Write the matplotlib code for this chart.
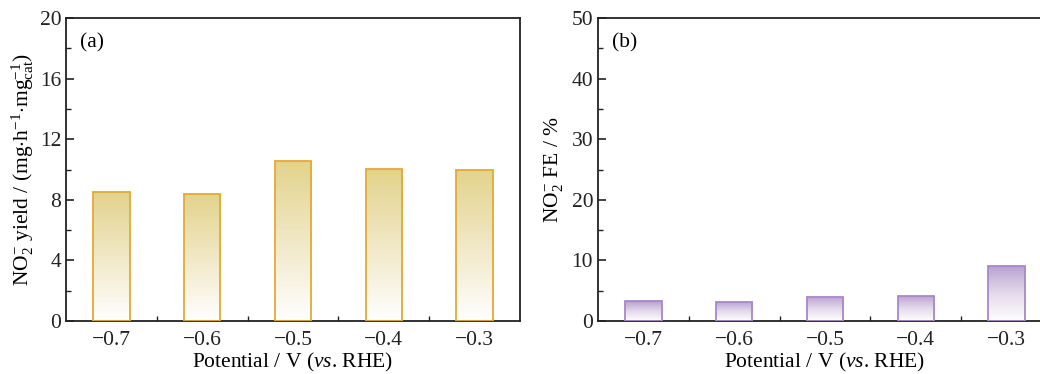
import numpy as np
import matplotlib
matplotlib.use("Agg")
import matplotlib.pyplot as plt
from matplotlib.colors import LinearSegmentedColormap
from matplotlib.ticker import MultipleLocator

plt.rcParams['font.family'] = ['Liberation Serif', 'DejaVu Serif']
plt.rcParams['mathtext.fontset'] = 'custom'
plt.rcParams['mathtext.rm'] = 'Liberation Serif'
plt.rcParams['mathtext.it'] = 'Liberation Serif:italic'
plt.rcParams['mathtext.bf'] = 'Liberation Serif:bold'

potential = [-0.7, -0.6, -0.5, -0.4, -0.3]
yield_vals = [8.5, 8.38, 10.55, 10.02, 9.97]
fe_vals = [3.3, 3.2, 4.0, 4.2, 9.1]

yellow = LinearSegmentedColormap.from_list('y', ['#ffffff', '#f1e8c6', '#e3d38c'])
purple = LinearSegmentedColormap.from_list('p', ['#ffffff', '#e4d9eb', '#b8a0cf'])

FS = 15.5


def gradient_bars(ax, x, vals, cmap, edge):
    bars = ax.bar(x, vals, width=0.04, facecolor='none', edgecolor=edge, linewidth=1.3, zorder=3)
    grad = np.linspace(0, 1, 256).reshape(-1, 1)
    for b in bars:
        x0, w, h = b.get_x(), b.get_width(), b.get_height()
        im = ax.imshow(grad, cmap=cmap, origin='lower', aspect='auto',
                       extent=[x0, x0 + w, 0, h], zorder=2, vmin=0, vmax=1)
        im.set_clip_path(b)
    return bars


def style_axis(ax, ymax, ystep):
    ax.set_xlim(-0.75, -0.25)
    ax.set_ylim(0, ymax)
    ax.set_xticks(potential)
    ax.set_xticklabels(['\u22120.7', '\u22120.6', '\u22120.5', '\u22120.4', '\u22120.3'])
    ax.set_xticks([-0.65, -0.55, -0.45, -0.35], minor=True)
    ax.yaxis.set_major_locator(MultipleLocator(ystep))
    ax.yaxis.set_minor_locator(MultipleLocator(ystep / 2))
    ax.tick_params(which='major', direction='in', length=6, width=1.2, labelsize=FS, colors='#222222')
    ax.tick_params(axis='x', which='major', pad=7)
    ax.tick_params(axis='y', which='major', pad=3.5)
    ax.tick_params(which='minor', direction='in', length=3.5, width=1.0, colors='#222222')
    for s in ax.spines.values():
        s.set_linewidth(1.3)
        s.set_color('#222222')
    ax.set_xlabel('Potential / V ($vs$. RHE)', fontsize=FS, labelpad=1)


fig = plt.figure(figsize=(10.4, 3.74), dpi=100)
ax1 = fig.add_axes([66 / 1040, 53 / 374, 454 / 1040, 303 / 374])
ax2 = fig.add_axes([598 / 1040, 53 / 374, 454 / 1040, 303 / 374])

gradient_bars(ax1, potential, yield_vals, yellow, '#e2aa35')
style_axis(ax1, 20, 4)
ax1.set_ylabel('NO$_2^{-}$ yield / (mg$\\cdot$h$^{-1}$$\\cdot$mg$_{\\mathrm{cat}}^{-1}$)', fontsize=FS, labelpad=2.5)
ax1.text(0.03, 0.95, '(a)', transform=ax1.transAxes, fontsize=FS, va='top', ha='left')

gradient_bars(ax2, potential, fe_vals, purple, '#a888c8')
style_axis(ax2, 50, 10)
ax2.set_ylabel('NO$_2^{-}$ FE / %', fontsize=FS, labelpad=5)
ax2.text(0.03, 0.95, '(b)', transform=ax2.transAxes, fontsize=FS, va='top', ha='left')

fig.savefig('out.png', dpi=100)
